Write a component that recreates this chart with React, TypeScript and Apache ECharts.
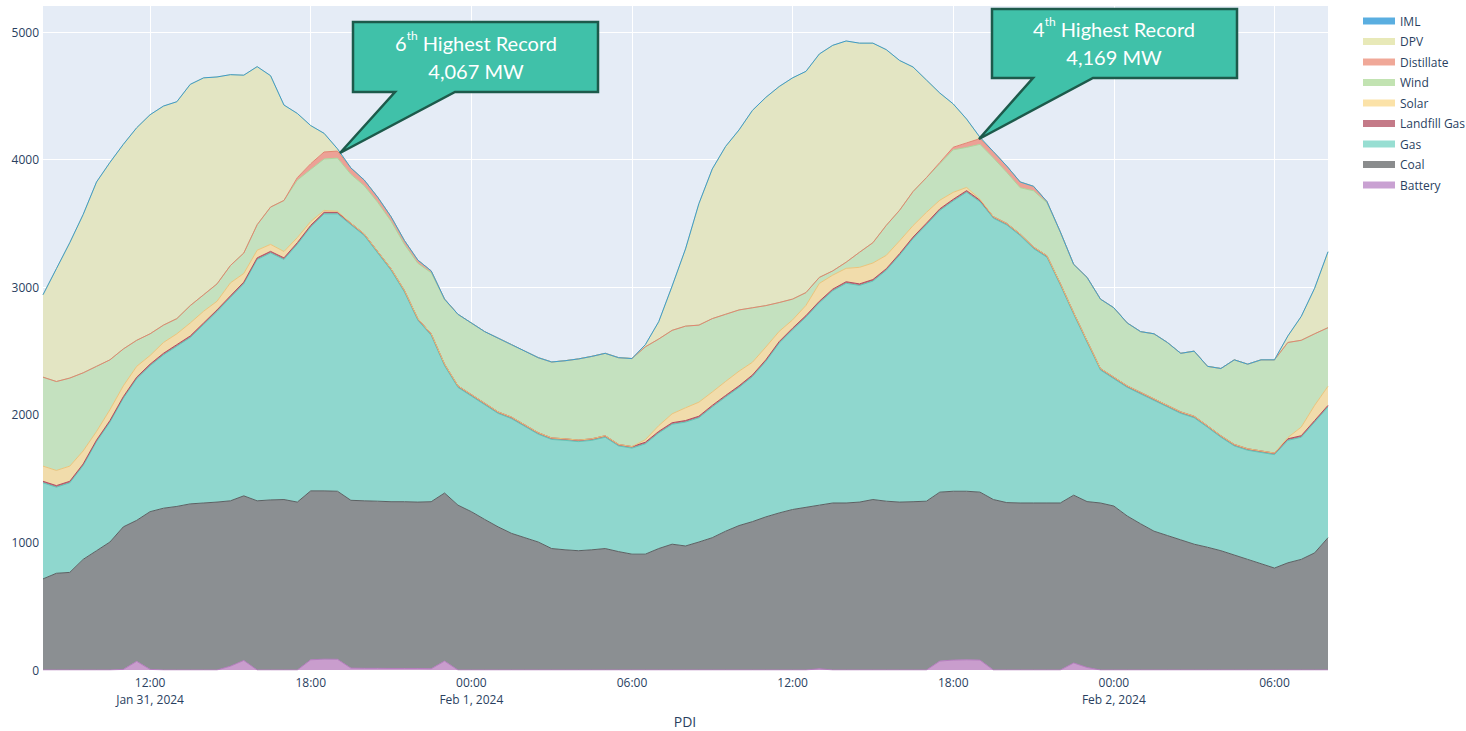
import React, { useEffect, useRef } from 'react';
import * as echarts from 'echarts';

// 30-minute samples from 2024-01-31 08:00 to 2024-02-02 08:00
const startTime = new Date(2024, 0, 31, 8, 0, 0).getTime();
const stepMs = 30 * 60 * 1000;
const pointCount = 97;
const endTime = startTime + (pointCount - 1) * stepMs;
const times = Array.from({ length: pointCount }, (_, i) => startTime + i * stepMs);

// x tick positions (every 6 hours from 12:00 Jan 31)
const xTickValues = [
  new Date(2024, 0, 31, 12, 0, 0).getTime(),
  new Date(2024, 0, 31, 18, 0, 0).getTime(),
  new Date(2024, 1, 1, 0, 0, 0).getTime(),
  new Date(2024, 1, 1, 6, 0, 0).getTime(),
  new Date(2024, 1, 1, 12, 0, 0).getTime(),
  new Date(2024, 1, 1, 18, 0, 0).getTime(),
  new Date(2024, 1, 2, 0, 0, 0).getTime(),
  new Date(2024, 1, 2, 6, 0, 0).getTime(),
];

const battery = [
  0, 0, 0, 0, 0, 0, 5, 68, 5, 0,
  0, 0, 0, 0, 30, 75, 0, 0, 0, 0,
  80, 85, 84, 15, 13, 13, 12, 12, 12, 10,
  70, 0, 0, 0, 0, 0, 0, 0, 0, 0,
  0, 0, 0, 0, 0, 0, 0, 0, 0, 0,
  0, 0, 0, 0, 0, 0, 0, 0, 10, 0,
  0, 0, 0, 0, 0, 0, 0, 70, 78, 80,
  78, 0, 0, 0, 0, 0, 0, 55, 20, 0,
  0, 0, 0, 0, 0, 0, 0, 0, 0, 0,
  0, 0, 0, 0, 0, 0, 0,
];

const coal = [
  714, 758, 765, 867, 935, 1003, 1117, 1105, 1236, 1268,
  1282, 1302, 1309, 1316, 1296, 1290, 1326, 1333, 1336, 1316,
  1324, 1319, 1317, 1315, 1313, 1310, 1307, 1307, 1304, 1309,
  1317, 1292, 1241, 1180, 1122, 1071, 1037, 1003, 952, 942,
  935, 942, 952, 928, 908, 908, 952, 986, 972, 1003,
  1037, 1088, 1132, 1163, 1200, 1231, 1258, 1275, 1282, 1309,
  1309, 1316, 1336, 1323, 1316, 1319, 1323, 1324, 1323, 1321,
  1316, 1336, 1312, 1309, 1309, 1309, 1309, 1315, 1300, 1309,
  1285, 1207, 1146, 1088, 1054, 1020, 986, 962, 935, 901,
  867, 833, 799, 840, 867, 918, 1037,
];

const gas = [
  753, 675, 702, 736, 855, 940, 1008, 1110, 1144, 1202,
  1256, 1304, 1399, 1494, 1594, 1663, 1892, 1936, 1882, 2021,
  2069, 2171, 2174, 2160, 2079, 1946, 1814, 1644, 1426, 1304,
  998, 923, 906, 899, 889, 899, 872, 845, 855, 858,
  855, 858, 872, 828, 831, 865, 906, 940, 971, 974,
  1025, 1052, 1083, 1137, 1219, 1331, 1409, 1491, 1586, 1664,
  1722, 1698, 1712, 1810, 1936, 2062, 2167, 2208, 2276, 2344,
  2276, 2205, 2176, 2096, 1994, 1926, 1709, 1418, 1248, 1042,
  998, 1008, 1018, 1025, 1008, 991, 991, 940, 889, 855,
  855, 872, 889, 960, 957, 1025, 1025,
];

const landfillGas = [
  12, 12, 12, 12, 12, 12, 12, 12, 12, 12,
  12, 12, 12, 12, 12, 12, 12, 12, 12, 12,
  12, 12, 12, 12, 12, 12, 12, 12, 12, 12,
  12, 12, 12, 12, 12, 12, 12, 12, 12, 12,
  12, 12, 12, 12, 12, 12, 12, 12, 12, 12,
  12, 12, 12, 12, 12, 12, 12, 12, 12, 12,
  12, 12, 12, 12, 12, 12, 12, 12, 12, 12,
  12, 12, 12, 12, 12, 12, 12, 12, 12, 12,
  12, 12, 12, 12, 12, 12, 12, 12, 12, 12,
  12, 12, 12, 12, 12, 12, 12,
];

const solar = [
  119, 119, 119, 102, 68, 85, 85, 85, 68, 85,
  85, 102, 92, 68, 102, 68, 60, 55, 50, 40,
  30, 15, 8, 0, 0, 0, 0, 0, 0, 0,
  0, 0, 0, 0, 0, 0, 0, 0, 0, 0,
  0, 0, 0, 0, 0, 20, 45, 70, 100, 110,
  105, 110, 115, 100, 100, 80, 65, 80, 140, 110,
  105, 130, 130, 105, 100, 90, 85, 68, 55, 25,
  8, 0, 0, 0, 0, 0, 0, 0, 0, 0,
  0, 0, 0, 0, 0, 0, 0, 0, 0, 0,
  0, 0, 0, 10, 68, 119, 150,
];

const wind = [
  697, 697, 690, 612, 510, 391, 289, 204, 170, 136,
  119, 136, 129, 136, 136, 160, 200, 292, 400, 450,
  408, 403, 417, 383, 378, 385, 373, 361, 434, 478,
  505, 561, 561, 561, 578, 568, 578, 588, 595, 612,
  636, 646, 646, 680, 690, 728, 679, 654, 640, 604,
  575, 526, 480, 427, 325, 226, 163, 100, 47, 33,
  48, 118, 159, 235, 240, 267, 272, 286, 333, 314,
  430, 460, 400, 363, 441, 415, 404, 379, 497, 544,
  544, 493, 476, 510, 493, 459, 510, 466, 527, 663,
  663, 714, 731, 745, 680, 561, 459,
];

const distillate = [
  0, 0, 0, 0, 0, 0, 0, 0, 0, 0,
  0, 0, 0, 0, 0, 0, 0, 0, 0, 20,
  45, 55, 55, 50, 45, 40, 35, 30, 25, 15,
  5, 0, 0, 0, 0, 0, 0, 0, 0, 0,
  0, 0, 0, 0, 0, 0, 0, 0, 0, 0,
  0, 0, 0, 0, 0, 0, 0, 0, 0, 0,
  0, 0, 0, 0, 0, 0, 0, 10, 20, 35,
  45, 50, 50, 45, 35, 10, 0, 0, 0, 0,
  0, 0, 0, 0, 0, 0, 0, 0, 0, 0,
  0, 0, 0, 0, 0, 0, 0,
];

const dpv = [
  646, 884, 1061, 1241, 1445, 1547, 1604, 1666, 1717, 1717,
  1700, 1734, 1700, 1622, 1496, 1394, 1239, 1030, 748, 503,
  299, 146, 18, 0, 0, 0, 0, 0, 0, 0,
  0, 0, 0, 0, 0, 0, 0, 0, 0, 0,
  0, 0, 0, 0, 0, 17, 136, 347, 605, 952,
  1173, 1316, 1411, 1547, 1632, 1693, 1734, 1734, 1751, 1768,
  1734, 1639, 1564, 1377, 1173, 976, 765, 544, 340, 187,
  10, 0, 0, 0, 0, 0, 0, 0, 0, 0,
  0, 0, 0, 0, 0, 0, 0, 0, 0, 0,
  0, 0, 0, 51, 187, 357, 595,
];

const iml = [
  0, 0, 0, 0, 0, 0, 0, 0, 0, 0,
  0, 0, 0, 0, 0, 0, 0, 0, 0, 0,
  0, 0, 0, 0, 0, 0, 0, 0, 0, 0,
  0, 0, 0, 0, 0, 0, 0, 0, 0, 0,
  0, 0, 0, 0, 0, 0, 0, 0, 0, 0,
  0, 0, 0, 0, 0, 0, 0, 0, 0, 0,
  0, 0, 0, 0, 0, 0, 0, 0, 0, 0,
  0, 0, 0, 0, 0, 0, 0, 0, 0, 0,
  0, 0, 0, 0, 0, 0, 0, 0, 0, 0,
  0, 0, 0, 0, 0, 0, 0,
];

const legendOrder = ['IML', 'DPV', 'Distillate', 'Wind', 'Solar', 'Landfill Gas', 'Gas', 'Coal', 'Battery'];

const yTicks = [0, 1000, 2000, 3000, 4000, 5000];

const seriesDefs = [
  { name: 'Battery', data: battery, line: '#b47cbd', fill: '#c99dcd', legend: '#c9a1d2' },
  { name: 'Coal', data: coal, line: '#5c6062', fill: '#8b8f92', legend: '#8a8c8d' },
  { name: 'Gas', data: gas, line: '#62c6b6', fill: '#8fd7ce', legend: '#97ded2' },
  { name: 'Landfill Gas', data: landfillGas, line: '#b04a5e', fill: '#c27786', legend: '#c47a88' },
  { name: 'Solar', data: solar, line: '#ecc47a', fill: '#f1dcab', legend: '#fbe2a8' },
  { name: 'Wind', data: wind, line: '#acd69c', fill: '#c4e1bf', legend: '#c2e3b2' },
  { name: 'Distillate', data: distillate, line: '#e38470', fill: '#eca196', legend: '#f0a898' },
  { name: 'DPV', data: dpv, line: '#d6d8a4', fill: '#e3e5c3', legend: '#e8e9b8' },
  { name: 'IML', data: iml, line: '#3c9acb', fill: '#7fb8dc', legend: '#5aaee0' },
];

const FONT = '"Open Sans", Verdana, Arial, sans-serif';
const AXIS_COLOR = '#2a3f5f';

function formatTick(value: number): string {
  const d = new Date(value);
  const hh = String(d.getHours()).padStart(2, '0');
  const mm = String(d.getMinutes()).padStart(2, '0');
  const months = ['Jan', 'Feb', 'Mar', 'Apr', 'May', 'Jun', 'Jul', 'Aug', 'Sep', 'Oct', 'Nov', 'Dec'];
  const dateStr = `${months[d.getMonth()]} ${d.getDate()}, ${d.getFullYear()}`;
  const isFirstLabel = d.getDate() === 31 && d.getHours() === 12;
  if (d.getHours() === 0 || isFirstLabel) return `${hh}:${mm}\n${dateStr}`;
  return `${hh}:${mm}`;
}

function callout(points: number[][], lines: { num: string; sup: string; value: string }, cx: number, cy: number) {
  return [
    {
      type: 'polygon',
      shape: { points },
      style: { fill: '#40c1a9', stroke: '#1d5a4b', lineWidth: 2.5 },
      z: 100,
    },
    {
      type: 'text',
      x: cx,
      y: cy,
      z: 101,
      style: {
        text: `{n|${lines.num}}{s|${lines.sup}}{n| Highest Record}\n{n|${lines.value}}`,
        align: 'center',
        verticalAlign: 'top',
        fill: '#ffffff',
        rich: {
          n: { fontFamily: 'Lato', fontSize: 20, fill: '#ffffff', lineHeight: 28 },
          s: { fontFamily: 'Lato', fontSize: 12, fill: '#ffffff', lineHeight: 28, verticalAlign: 'top', padding: [0, 0, 10, 0] },
        },
      },
    },
  ];
}

export default function App() {
  const ref = useRef<HTMLDivElement>(null);
  useEffect(() => {
    if (!ref.current) return;
    const chart = echarts.init(ref.current, null, { renderer: 'svg' });
    const series = seriesDefs.map((s) => ({
      name: s.name,
      type: 'line',
      stack: 'total',
      xAxisIndex: 0,
      data: times.map((t, i) => [t, s.data[i]]),
      showSymbol: false,
      symbol: 'none',
      smooth: false,
      itemStyle: { color: s.legend },
      lineStyle: { color: s.line, width: 1 },
      areaStyle: { color: s.fill, opacity: 1 },
      emphasis: { disabled: true },
    }));
    chart.setOption({
      animation: false,
      backgroundColor: '#ffffff',
      textStyle: { fontFamily: FONT },
      grid: {
        left: 43,
        right: 138,
        top: 5,
        bottom: 61,
        show: true,
        backgroundColor: '#e5ecf6',
        borderWidth: 0,
      },
      legend: {
        orient: 'vertical',
        left: 1358,
        top: 9,
        icon: 'rect',
        itemWidth: 32,
        itemHeight: 7,
        itemGap: 6.5,
        data: legendOrder,
        textStyle: { color: AXIS_COLOR, fontSize: 12, fontFamily: FONT, lineHeight: 14 },
      },
      xAxis: [
        {
          // data axis for the stacked series
          type: 'time',
          min: startTime,
          max: endTime,
          position: 'bottom',
          axisLine: { show: false },
          axisTick: { show: false },
          splitLine: { show: false },
          axisLabel: { show: false },
        },
        {
          // tick / grid axis with 6-hour ticks
          type: 'value',
          min: startTime,
          max: endTime,
          position: 'bottom',
          offset: 0,
          axisLine: { show: false },
          axisTick: { show: false, customValues: xTickValues },
          splitLine: { show: true, lineStyle: { color: '#ffffff', width: 1 } },
          axisLabel: {
            customValues: xTickValues,
            formatter: (v: number) => formatTick(v),
            color: AXIS_COLOR,
            fontSize: 12,
            fontFamily: FONT,
            lineHeight: 17,
            margin: 4,
            hideOverlap: false,
          },
        },
      ],
      yAxis: {
        type: 'value',
        min: yTicks[0],
        max: 5212,
        interval: 1000,
        axisLine: { show: false },
        axisTick: { show: false },
        splitLine: { show: true, lineStyle: { color: '#ffffff', width: 1 } },
        axisLabel: {
          color: AXIS_COLOR,
          fontSize: 12,
          fontFamily: FONT,
          margin: 4,
          showMaxLabel: false,
          formatter: (v: number) => String(v),
        },
      },
      series,
      graphic: [
        {
          type: 'text',
          x: 685,
          y: 721,
          style: {
            text: 'PDI',
            fontFamily: FONT,
            fontSize: 14,
            fill: AXIS_COLOR,
            align: 'center',
            verticalAlign: 'middle',
          },
        },
        ...callout(
          [[353, 22], [598, 22], [598, 92], [455, 92], [340, 153], [395, 92], [353, 92]],
          { num: '6', sup: 'th', value: '4,067 MW' },
          476,
          29,
        ),
        ...callout(
          [[992, 9], [1237, 9], [1237, 78], [1093, 78], [979, 139], [1033, 78], [992, 78]],
          { num: '4', sup: 'th', value: '4,169 MW' },
          1114,
          15,
        ),
      ],
    });
    return () => chart.dispose();
  }, []);
  return (
    <div
      ref={ref}
      style={{ position: 'fixed', left: 0, top: 0, width: 1466, height: 731 }}
    />
  );
}
